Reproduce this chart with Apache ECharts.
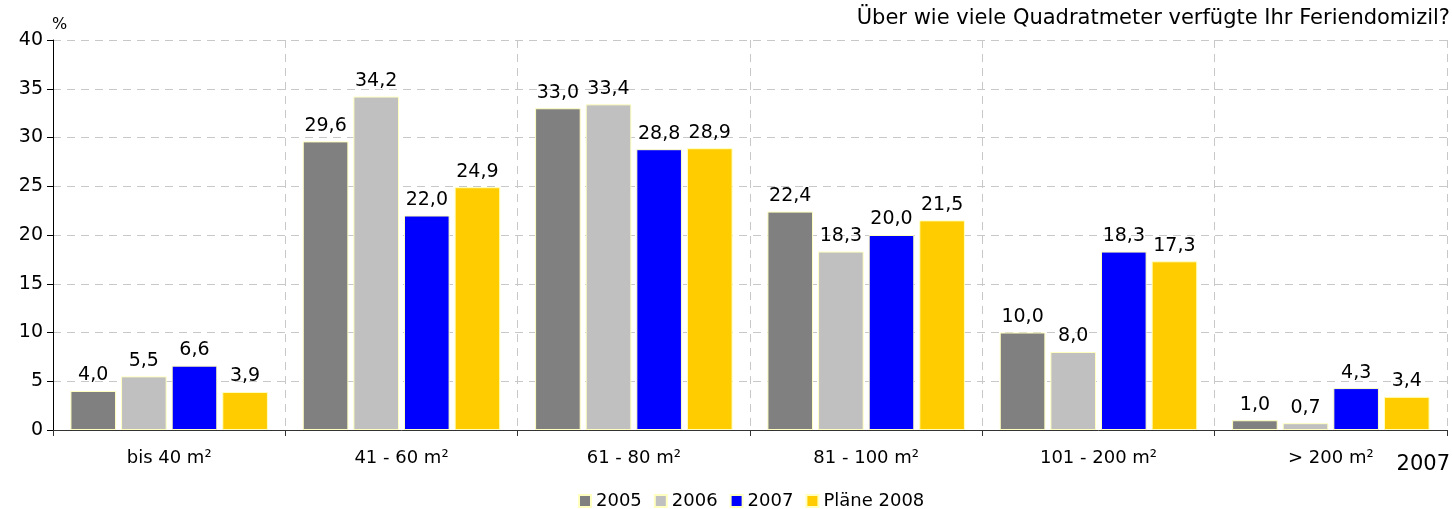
<!DOCTYPE html>
<html lang="de">
<head>
    <meta charset="utf-8">
    <title>Feriendomizil Quadratmeter</title>
    <script type="text/javascript" src="https://cdn.jsdelivr.net/npm/echarts@6/dist/echarts.min.js"></script>
</head>
<body style="margin:0">
<div id="main" style="width: 1452px;height:509px;"></div>
<script>
    var categories = ['bis 40 m²', '41 - 60 m²', '61 - 80 m²', '81 - 100 m²', '101 - 200 m²', '> 200 m²'];
    var seriesNames = ['2005', '2006', '2007', 'Pläne 2008'];
    var v2005 = [4.0, 29.6, 33.0, 22.4, 10.0, 1.0];
    var v2006 = [5.5, 34.2, 33.4, 18.3, 8.0, 0.7];
    var v2007 = [6.6, 22.0, 28.8, 20.0, 18.3, 4.3];
    var v2008 = [3.9, 24.9, 28.9, 21.5, 17.3, 3.4];
    var colors = ['#808080', '#c0c0c0', '#0000ff', '#ffcc00'];

    var fontFamily = 'DejaVu Sans';
    var chartDom = document.getElementById('main');
    var myChart = echarts.init(chartDom);

    function makeSeries(name, data, color) {
        return {
            name: name,
            type: 'bar',
            data: data,
            barGap: '11%',
            barCategoryGap: '15%',
            itemStyle: {color: color, borderColor: '#ffffc0', borderWidth: 1},
            label: {
                show: true,
                position: 'top',
                distance: 6,
                color: '#000',
                fontSize: 19,
                fontFamily: fontFamily,
                formatter: function (p) {
                    return p.value.toFixed(1).replace('.', ',');
                }
            }
        };
    }

    var option = {
        animation: false,
        textStyle: {fontFamily: fontFamily},
        graphic: [
            {type: 'text', right: 2, top: 8, style: {text: 'Über wie viele Quadratmeter verfügte Ihr Feriendomizil?', fontSize: 21, fontFamily: fontFamily, fill: '#000'}},
            {type: 'text', left: 52, top: 17, style: {text: '%', fontSize: 16, fontFamily: fontFamily, fill: '#000'}},
            {type: 'text', right: 2, top: 454, style: {text: '2007', fontSize: 21, fontFamily: fontFamily, fill: '#000'}}
        ],
        legend: {
            data: seriesNames,
            left: 573,
            top: 487,
            icon: 'rect',
            itemWidth: 12,
            itemHeight: 12,
            itemGap: 12,
            textStyle: {fontSize: 18, color: '#000', fontFamily: fontFamily}
        },
        grid: {left: 53, right: 5, top: 40, bottom: 79},
        xAxis: {
            type: 'category',
            data: categories,
            axisLine: {lineStyle: {color: '#333', width: 1}},
            axisTick: {show: true, length: 6, lineStyle: {color: '#333'}},
            axisLabel: {fontSize: 18, color: '#000', margin: 19, fontFamily: fontFamily},
            splitLine: {show: true, lineStyle: {color: '#c8c8c8', type: [8, 6]}}
        },
        yAxis: {
            type: 'value',
            min: 0,
            max: 40,
            interval: 5,
            axisLine: {show: true, lineStyle: {color: '#000'}},
            axisTick: {show: true, length: 6, lineStyle: {color: '#000'}},
            axisLabel: {fontSize: 19, color: '#000', margin: 10, fontFamily: fontFamily},
            splitLine: {show: true, lineStyle: {color: '#c8c8c8', type: [8, 6]}}
        },
        series: [
            makeSeries(seriesNames[0], v2005, colors[0]),
            makeSeries(seriesNames[1], v2006, colors[1]),
            makeSeries(seriesNames[2], v2007, colors[2]),
            makeSeries(seriesNames[3], v2008, colors[3])
        ]
    };

    myChart.setOption(option);
</script>
</body>
</html>
